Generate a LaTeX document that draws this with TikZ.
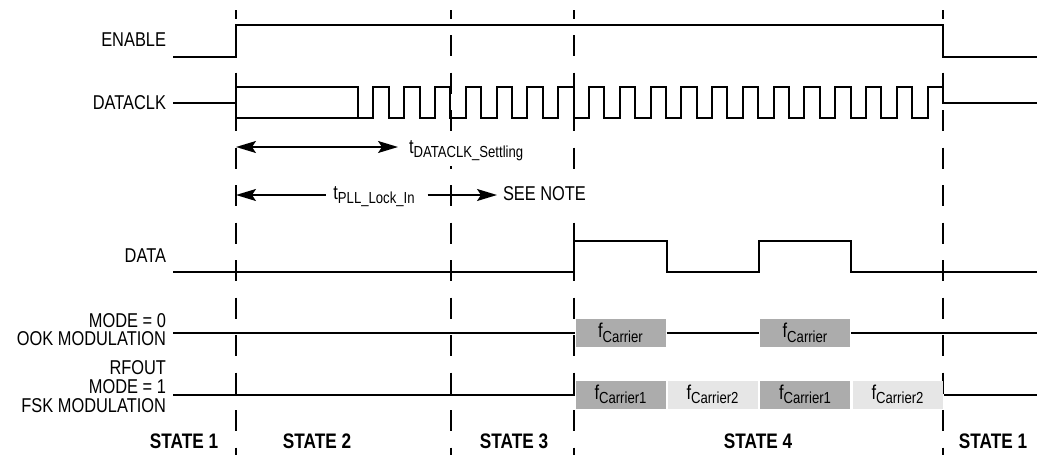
\documentclass[tikz,border=0pt]{standalone}
\usepackage{fontspec}
\setmainfont[FakeStretch=0.82]{Liberation Sans}
\usetikzlibrary{positioning,calc,arrows.meta}
\definecolor{carrierdark}{RGB}{172,172,172}
\definecolor{carrierlight}{RGB}{230,230,230}
\newcommand{\tsub}[1]{\raisebox{-2.2pt}{\fontsize{8}{8}\selectfont #1}}

\begin{document}
\begin{tikzpicture}[x=0.5pt, y=-0.5pt, line width=1pt, font=\fontsize{10}{9}\selectfont]

\tikzset{
  wave/.style={line width=1pt, line join=miter},
  guide/.style={line width=1pt, dash pattern=on 10.5pt off 8.25pt, dash phase=6.25pt},
  sig/.style={anchor=east, inner sep=0pt, align=right},
  wb/.style={fill=white, inner sep=2.5pt},
  statelbl/.style={inner sep=0pt, font=\bfseries\fontsize{10.5}{10.5}\selectfont},
  timearrow/.style={line width=0.85pt},
  tip/.tip={Stealth[length=10pt,width=6pt,inset=2pt]},
  carrier/.style={inner sep=0pt, minimum width=45pt, minimum height=14pt, draw=none}
}

\useasboundingbox (0,0) rectangle (1040,455);

% -----------------------------------------
% state boundaries
% -----------------------------------------
\foreach \x in {236,451,574,943}
  \draw[guide] (\x,10) -- (\x,455);

% -----------------------------------------
% signal names
% -----------------------------------------
\node[sig] (enable)  at (167,40)  {ENABLE};
\node[sig] (dataclk) at (167,103) {DATACLK};
\node[sig] (data)    at (167,256) {DATA};
\node[sig] (ook)     at (167,330) {MODE = 0\\OOK MODULATION};
\node[sig] (fsk)     at (167,387) {RFOUT\\[0.5pt]MODE = 1\\[0.5pt]FSK MODULATION};

% -----------------------------------------
% ENABLE
% -----------------------------------------
\draw[wave] (173,57) -- (236,57) -- (236,25) -- (943,25) -- (943,57) -- (1037,57);

% -----------------------------------------
% DATACLK (undefined, then toggling)
% -----------------------------------------
\pgfmathsetmacro{\hp}{585/38}
\draw[wave] (173,103) -- (236,103);
\draw[wave] (236,87) -- (236,118);
\draw[wave] (236,118) -- (358,118);
\draw[wave] (236,87) -- (358,87) -- (358,118)
  \foreach \k in {1,...,18} { -- ++(\hp,0) -- ++(0,-31) -- ++(\hp,0) -- ++(0,31) }
  -- ++(\hp,0) -- ++(0,-31) -- (943,87) -- (943,103) -- (1037,103);

% settling time
\coordinate (set-start) at (236,147);
\node[wb, anchor=base west] (settle) at (403,153) {t\tsub{DATACLK\_Settling}};
\draw[timearrow, tip-tip, shorten >=2.5pt] (set-start) -- (settle.west |- set-start);

% PLL lock in
\coordinate (pll-start) at (236,195);
\node[anchor=base, inner sep=0pt] (pll) at (374,199) {t\tsub{PLL\_Lock\_In}};
\node[wb, anchor=west] (note) at (497,194) {SEE NOTE};
\draw[timearrow, tip-, shorten >=3pt] (pll-start) -- (pll.west |- pll-start);
\draw[timearrow, -tip, shorten <=6pt] (pll.east |- pll-start) -- (note.west |- pll-start);

% -----------------------------------------
% DATA
% -----------------------------------------
\draw[wave] (173,272) -- (574,272) -- (574,241) -- (667,241) -- (667,272)
  -- (759,272) -- (759,241) -- (851,241) -- (851,272) -- (1037,272);

% -----------------------------------------
% RFOUT, OOK and FSK
% -----------------------------------------
\node[carrier, fill=carrierdark] (ook1) at (620.5,333) {f\tsub{Carrier}};
\node[carrier, fill=carrierdark] (ook2) at (805,333)   {f\tsub{Carrier}};
\draw[wave] (173,333) -- (ook1.west);
\draw[wave] (ook1.east) -- (ook2.west);
\draw[wave] (ook2.east) -- (1037,333);

\node[carrier, fill=carrierdark]  (fsk1) at (620.5,394.5) {f\tsub{Carrier1}};
\node[carrier, fill=carrierlight] (fsk2) at (712.5,394.5) {f\tsub{Carrier2}};
\node[carrier, fill=carrierdark]  (fsk3) at (805,394.5)   {f\tsub{Carrier1}};
\node[carrier, fill=carrierlight] (fsk4) at (897.5,394.5) {f\tsub{Carrier2}};
\draw[wave] (173,394.5) -- (fsk1.west);
\draw[wave] (fsk4.east) -- (1037,394.5);

% -----------------------------------------
% states
% -----------------------------------------
\node[statelbl] (st1) at (184,441) {STATE 1};
\node[statelbl] (st2) at (317,441) {STATE 2};
\node[statelbl] (st3) at (514,441) {STATE 3};
\node[statelbl] (st4) at (758,441) {STATE 4};
\node[statelbl] (st5) at (993,441) {STATE 1};

\end{tikzpicture}
\end{document}
